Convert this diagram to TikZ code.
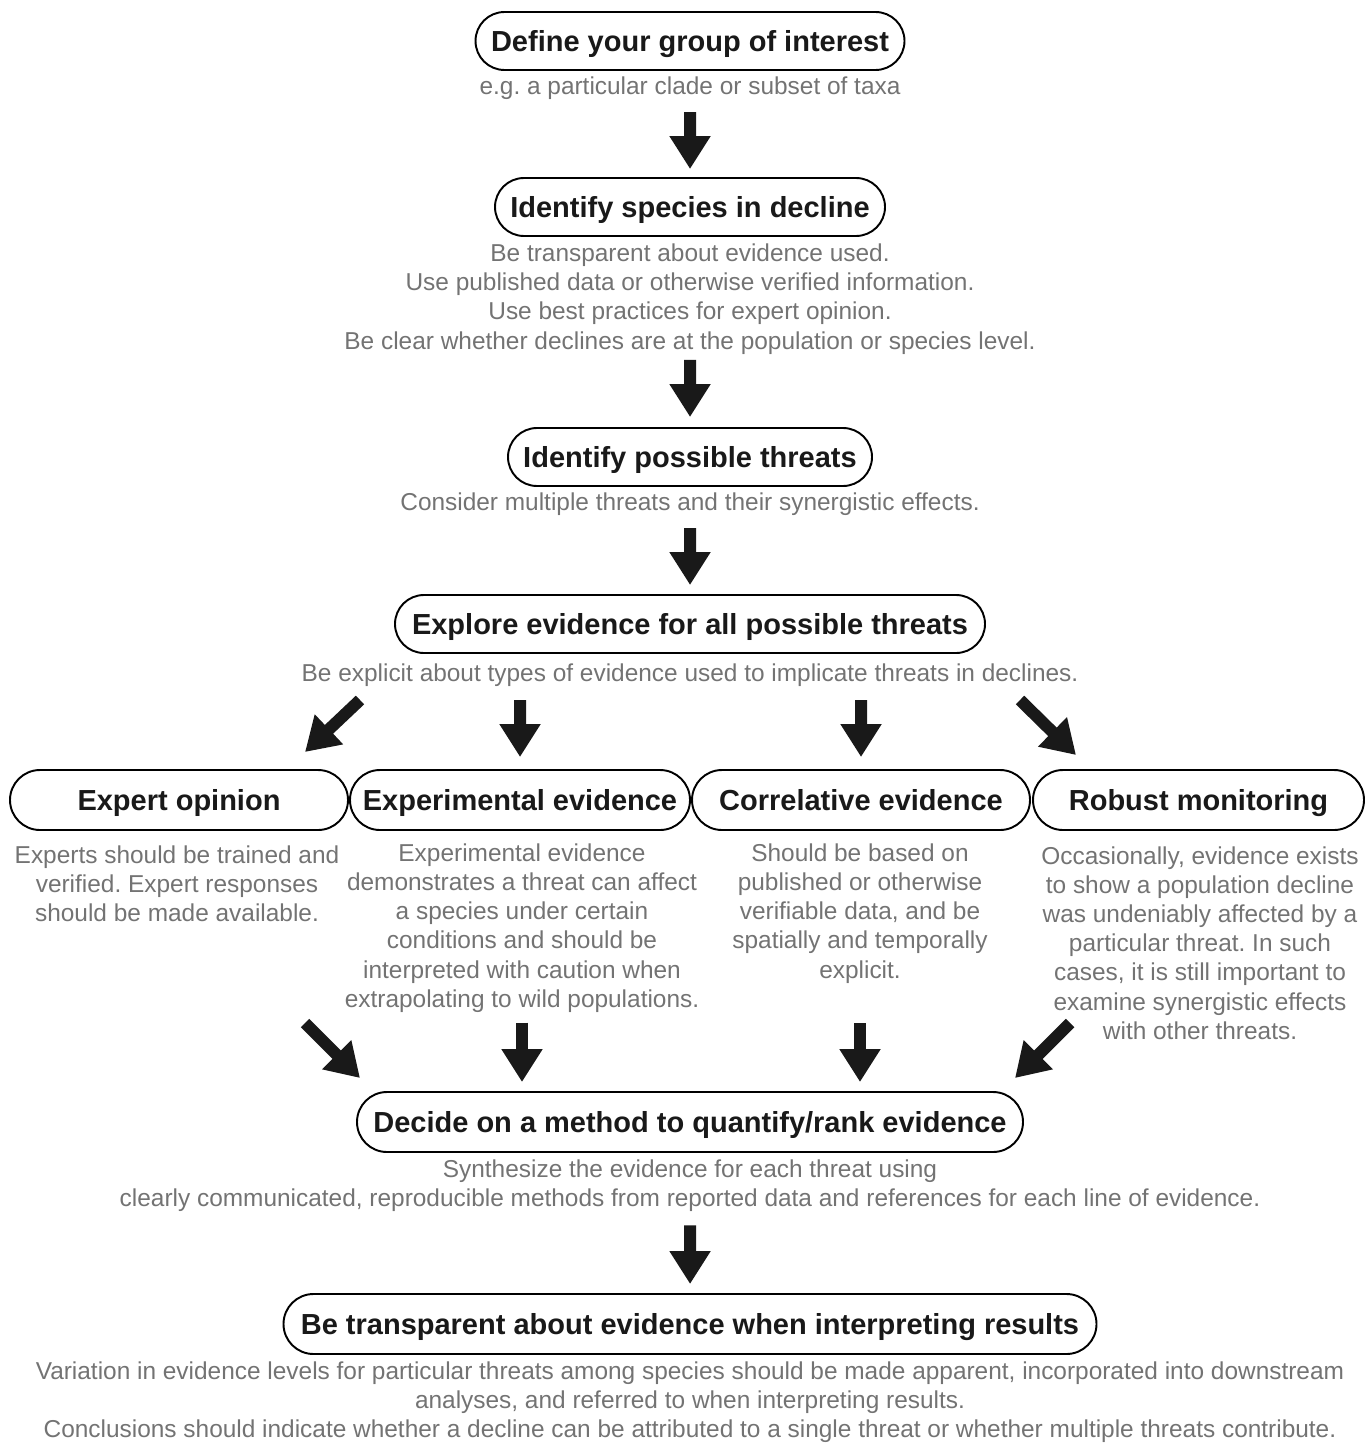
\documentclass[tikz,border=0pt]{standalone}
\usepackage{fontspec}
\setmainfont{Liberation Sans}
\frenchspacing
\usetikzlibrary{positioning, calc}
\usetikzlibrary{arrows.meta}
\usetikzlibrary{shapes}

\begin{document}
\begin{tikzpicture}[draw=black!100]
	\def \midline{13.8cm}
	\def \rowoneht{-0.82cm}
	\def \rowtwoht{-4.14cm}
	\def \rowthreeht{-9.14cm}
	\def \rowfourht{-12.48cm}
	\def \splitht{-16cm}
	\def \rowdecide{-22.44cm}
	\def \rowlast{-26.48cm}
	\tikzstyle{box-node}=[rounded rectangle,draw=black!100,line width=1.1pt,inner sep=0pt,minimum height=1.16cm,text height=11.8pt,text depth=0pt,text=black!90,font=\fontsize{16.5}{20}\selectfont\bfseries]
	\tikzstyle{note}=[align=center,inner sep=0pt,text=black!55,font=\fontsize{13.9}{16.6}\selectfont]
	\tikzstyle{bigarrow}=[line width=0.24cm,-{Triangle[length=0.66cm,width=0.78cm]},draw=black!90]
	\useasboundingbox (0,0) rectangle (27.34,-28.9);

	% main steps
	\node[box-node,minimum width=8.58cm]	(group)		at (\midline,\rowoneht)		{Define your group of interest};
	\node[note]	(group-n)	at (\midline,-1.76cm)	{e.g. a particular clade or subset of taxa};
	\node[box-node,minimum width=7.8cm]	(decline)	at (\midline,\rowtwoht)		{Identify species in decline};
	\node[note]	(decline-n)	at (\midline,-5.98cm)	{Be transparent about evidence used.\\Use published data or otherwise verified information.\\Use best practices for expert opinion.\\Be clear whether declines are at the population or species level.};
	\node[box-node,minimum width=7.28cm]	(threats)	at (\midline,\rowthreeht)	{Identify possible threats};
	\node[note]	(threats-n)	at (\midline,-10.08cm)	{Consider multiple threats and their synergistic effects.};
	\node[box-node,minimum width=11.8cm]	(explore)	at (\midline,\rowfourht)	{Explore evidence for all possible threats};
	\node[note]	(explore-n)	at (\midline,-13.5cm)	{Be explicit about types of evidence used to implicate threats in declines.};

	% lines of evidence
	\node[box-node,minimum width=6.76cm,minimum height=1.2cm]	(expert)	at (3.58cm,\splitht)	{Expert opinion};
	\node[box-node,minimum width=6.8cm,minimum height=1.2cm]	(experiment)	at (10.4cm,\splitht)	{Experimental evidence};
	\node[box-node,minimum width=6.76cm,minimum height=1.2cm]	(correl)	at (17.22cm,\splitht)	{Correlative evidence};
	\node[box-node,minimum width=6.62cm,minimum height=1.2cm]	(monitor)	at (23.97cm,\splitht)	{Robust monitoring};
	\node[note]	(expert-n)	at (3.54cm,-17.68cm)	{Experts should be trained and\\verified. Expert responses\\should be made available.};
	\node[note]	(experiment-n)	at (10.44cm,-18.56cm)	{Experimental evidence\\demonstrates a threat can affect\\a species under certain\\conditions and should be\\interpreted with caution when\\extrapolating to wild populations.};
	\node[note]	(correl-n)	at (17.2cm,-18.27cm)	{Should be based on\\published or otherwise\\verifiable data, and be\\spatially and temporally\\explicit.};
	\node[note]	(monitor-n)	at (24cm,-18.86cm)	{Occasionally, evidence exists\\to show a population decline\\was undeniably affected by a\\particular threat. In such\\cases, it is still important to\\examine synergistic effects\\with other threats.};

	% synthesis
	\node[box-node,minimum width=13.32cm,minimum height=1.2cm]	(decide)	at (\midline,\rowdecide)	{Decide on a method to quantify/rank evidence};
	\node[note]	(decide-n)	at (\midline,-23.71cm)	{Synthesize the evidence for each threat using\\clearly communicated, reproducible methods from reported data and references for each line of evidence.};
	\node[box-node,minimum width=16.26cm,minimum height=1.2cm]	(transp)	at (\midline,\rowlast)	{Be transparent about evidence when interpreting results};
	\node[note]	(transp-n)	at (\midline,-28.04cm)	{Variation in evidence levels for particular threats among species should be made apparent, incorporated into downstream\\analyses, and referred to when interpreting results.\\Conclusions should indicate whether a decline can be attributed to a single threat or whether multiple threats contribute.};

	% ends of the slanted arrows
	\coordinate	(expert-t)	at (7.2,-14.0);
	\coordinate	(expert-h)	at (6.1,-15.04);
	\coordinate	(monitor-t)	at (20.4,-14.0);
	\coordinate	(monitor-h)	at (21.52,-15.1);
	\coordinate	(expert-t2)	at (6.1,-20.46);
	\coordinate	(expert-h2)	at (7.2,-21.56);
	\coordinate	(monitor-t2)	at (21.4,-20.46);
	\coordinate	(monitor-h2)	at (20.3,-21.56);

	\path
		(group-n)	edge[bigarrow,shorten <=0.25cm,shorten >=0.16cm]	(decline)
		(decline-n)	edge[bigarrow,shorten <=0.11cm,shorten >=0.2cm]	(threats)
		(threats-n)	edge[bigarrow,shorten <=0.25cm,shorten >=0.18cm]	(explore)
		(expert-t)	edge[bigarrow]	(expert-h)
		(explore-n.south -| experiment)	edge[bigarrow,shorten <=0.27cm,shorten >=0.24cm]	(experiment)
		(explore-n.south -| correl)	edge[bigarrow,shorten <=0.27cm,shorten >=0.24cm]	(correl)
		(monitor-t)	edge[bigarrow]	(monitor-h)
		(expert-t2)	edge[bigarrow]	(expert-h2)
		(experiment-n.south)	edge[bigarrow,shorten <=0.2cm,shorten >=0.18cm]	(experiment-n.south |- decide.north)
		(correl-n.south)	edge[bigarrow,shorten <=0.79cm,shorten >=0.18cm]	(correl-n.south |- decide.north)
		(monitor-t2)	edge[bigarrow]	(monitor-h2)
		(decide-n)	edge[bigarrow,shorten <=0.27cm,shorten >=0.18cm]	(transp);

\end{tikzpicture}
\end{document}
